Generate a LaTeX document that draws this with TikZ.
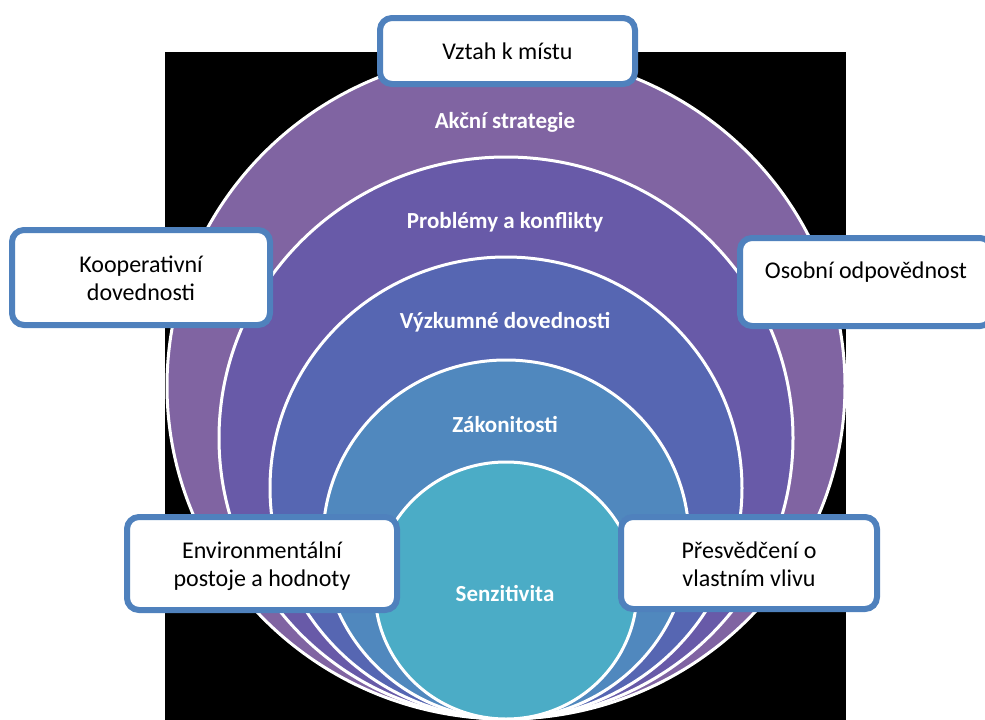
\documentclass[tikz,border=0pt]{standalone}
\usepackage{fontspec}
\setmainfont{Carlito}
\definecolor{ringA}{HTML}{8064A2}
\definecolor{ringB}{HTML}{685AA8}
\definecolor{ringC}{HTML}{5666B2}
\definecolor{ringD}{HTML}{5088BE}
\definecolor{ringE}{HTML}{4BACC6}
\definecolor{boxline}{HTML}{4F81BD}
\tikzset{
  ring/.style={draw=white, line width=3pt},
  ringlabel/.style={text=white, font=\fontsize{23}{28}\selectfont\bfseries, inner sep=0pt},
  infobox/.style={draw=boxline, fill=white, line width=6pt, rounded corners=12pt, inner sep=0pt},
  boxtext/.style={text=black, font=\fontsize{24}{28}\selectfont, align=center, inner sep=0pt}
}
\begin{document}
\begin{tikzpicture}[x=1pt,y=-1pt]
\clip (0,0) rectangle (985,720);
\fill[black] (165,52) rectangle (846,720);
% nested circles
\filldraw[ring, fill=ringA] (506,386) ellipse [x radius=339, y radius=333];
\filldraw[ring, fill=ringB] (506,438) ellipse [x radius=287, y radius=281];
\filldraw[ring, fill=ringC] (506,488) ellipse [x radius=236, y radius=231];
\filldraw[ring, fill=ringD] (506,539.5) ellipse [x radius=183, y radius=179.5];
\filldraw[ring, fill=ringE] (506,590.5) ellipse [x radius=131, y radius=128.5];
% ring labels
\node[ringlabel] (l1) at (505,122) {Akční strategie};
\node[ringlabel] (l2) at (505,222) {Problémy a konflikty};
\node[ringlabel] (l3) at (505,322) {Výzkumné dovednosti};
\node[ringlabel] (l4) at (505,424) {Zákonitosti};
\node[ringlabel] (l5) at (505,593) {Senzitivita};
% boxes
\node[infobox, minimum width=255pt, minimum height=66pt] (vztah) at (507.5,51) {};
\node[boxtext] (vztahT) at (vztah.center) {Vztah k místu};
\node[infobox, minimum width=258pt, minimum height=95pt] (koop) at (141,277.5) {};
\node[boxtext] (koopT) at (141,278.5) {Kooperativní\\dovednosti};
\node[infobox, minimum width=252pt, minimum height=88pt] (osob) at (866,282) {};
\node[boxtext] (osobT) at (866,272) {Osobní odpovědnost};
\node[infobox, minimum width=270pt, minimum height=93pt] (env) at (262,563.5) {};
\node[boxtext] (envT) at (262,566.5) {Environmentální\\postoje a hodnoty};
\node[infobox, minimum width=256pt, minimum height=92pt] (pres) at (749,563) {};
\node[boxtext] (presT) at (749,564) {Přesvědčení o\\vlastním vlivu};
\end{tikzpicture}
\end{document}
